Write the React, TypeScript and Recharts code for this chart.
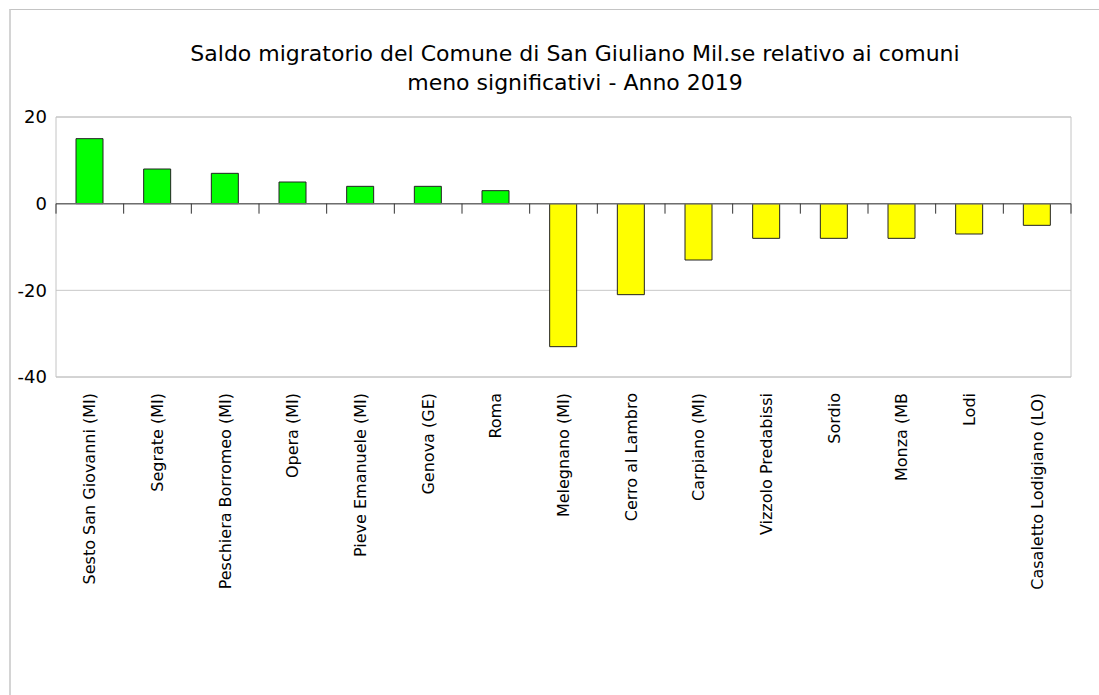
import React from 'react';
import { BarChart, Bar, XAxis, YAxis, CartesianGrid, ReferenceLine, ReferenceArea, Cell } from 'recharts';

// Saldo migratorio 2019 - comuni meno significativi
const comuni = [
  'Sesto San Giovanni (MI)',
  'Segrate (MI)',
  'Peschiera Borromeo (MI)',
  'Opera (MI)',
  'Pieve Emanuele (MI)',
  'Genova (GE)',
  'Roma',
  'Melegnano (MI)',
  'Cerro al Lambro',
  'Carpiano (MI)',
  'Vizzolo Predabissi',
  'Sordio',
  'Monza (MB',
  'Lodi',
  'Casaletto Lodigiano (LO)',
];
const saldo = [15, 8, 7, 5, 4, 4, 3, -33, -21, -13, -8, -8, -8, -7, -5];
const yTicks = [-40, -20, 0, 20];

const data = comuni.map((nome, i) => ({ nome, saldo: saldo[i] }));

const FONT = '"DejaVu Sans", Verdana, sans-serif';

const NomeTick = (props: any) => {
  const { x, y, payload } = props;
  return (
    <text
      transform={`translate(${x},${y + 8}) rotate(-90)`}
      textAnchor="end"
      dy="0.35em"
      fontSize={16}
      fontFamily={FONT}
      fill="#000"
    >
      {payload.value}
    </text>
  );
};

// zero line with small ticks at category boundaries (like the original axis)
const ZeroLine = (props: any) => {
  const { x1, y1, x2 } = props;
  const step = (x2 - x1) / comuni.length;
  return (
    <g>
      <line x1={x1} y1={y1} x2={x2} y2={y1} stroke="#6e6e6e" strokeWidth={1.5} />
      {Array.from({ length: comuni.length + 1 }).map((_, i) => (
        <line key={i} x1={x1 + i * step} y1={y1} x2={x1 + i * step} y2={y1 + 10} stroke="#333" strokeWidth={1} />
      ))}
    </g>
  );
};

export default function App() {
  return (
    <div style={{ position: 'absolute', left: 0, top: 0, width: 1099, height: 695, background: '#fff', overflow: 'hidden' }}>
      <div
        style={{
          position: 'absolute',
          left: 9,
          top: 9,
          width: 1200,
          height: 800,
          borderTop: '1px solid #c4c4c4',
          borderLeft: '2px solid #d4d4d4',
        }}
      />
      <div
        style={{
          position: 'absolute',
          left: 575 - 450,
          top: 39,
          width: 900,
          textAlign: 'center',
          fontFamily: FONT,
          fontSize: 22,
          lineHeight: '29px',
          color: '#000',
        }}
      >
        Saldo migratorio del Comune di San Giuliano Mil.se relativo ai comuni
        <br />
        meno significativi - Anno 2019
      </div>
      <div style={{ position: 'absolute', left: 0, top: 0 }}>
        <BarChart
          width={1099}
          height={695}
          data={data}
          margin={{ top: 117, right: 28, left: 0, bottom: 0 }}
          barSize={27}
        >
          <CartesianGrid vertical={false} stroke="#c8c8c8" />
          <ReferenceArea y1={-40} y2={20} fill="none" stroke="#c4c4c4" strokeWidth={1} />
          <XAxis
            dataKey="nome"
            interval={0}
            tickLine={false}
            axisLine={false}
            height={318}
            tick={<NomeTick />}
          />
          <YAxis
            width={56}
            domain={[-40, 20]}
            ticks={yTicks}
            tickLine={false}
            axisLine={false}
            tickMargin={3}
            tick={{ fontSize: 18, fill: '#000', fontFamily: FONT }}
          />
          <Bar dataKey="saldo" stroke="#222" strokeWidth={1} isAnimationActive={false}>
            {data.map((d, i) => (
              <Cell key={i} fill={d.saldo >= 0 ? '#00ff00' : '#ffff00'} />
            ))}
          </Bar>
          <ReferenceLine y={0} shape={<ZeroLine />} />
        </BarChart>
      </div>
    </div>
  );
}
